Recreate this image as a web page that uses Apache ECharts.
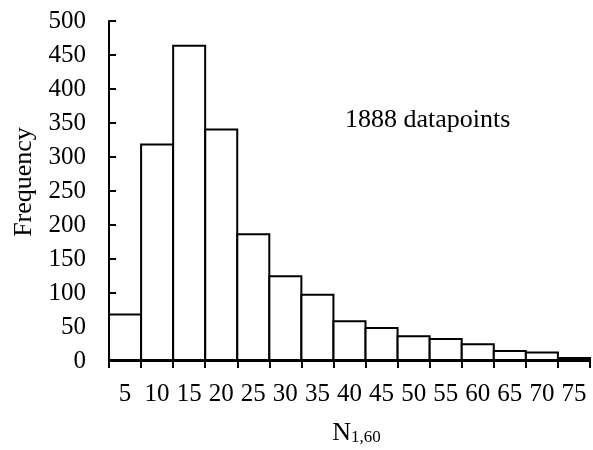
<!DOCTYPE html>
<html>
<head>
<meta charset="utf-8">
<title>N1,60 histogram</title>
<script type="text/javascript" src="https://cdn.jsdelivr.net/npm/echarts@6/dist/echarts.min.js"></script>
<style>
html, body { margin: 0; padding: 0; background: #fff; }
#chart { width: 593px; height: 450px; }
</style>
</head>
<body>
<div id="chart"></div>
<script type="text/javascript">
    // bin labels (upper edge of each 5-wide bin)
    var bins = ['5', '10', '15', '20', '25', '30', '35', '40', '45', '50', '55', '60', '65', '70', '75'];
    // counts
    var counts = [70, 320, 465, 342, 188, 126, 99, 60, 50, 38, 34, 26, 16, 14, 6];
    var yTicks = [0, 50, 100, 150, 200, 250, 300, 350, 400, 450, 500];
    var note = '1888 datapoints';

    var serif = '"Liberation Serif", "Times New Roman", serif';

    var option = {
        backgroundColor: '#fff',
        animation: false,
        grid: { left: 109, right: 3, top: 21, bottom: 89, containLabel: false, outerBoundsMode: 'none' },
        graphic: [{
            type: 'text',
            left: 345,
            top: 107,
            style: { text: note, font: '26px ' + serif, fill: '#000' }
        }],
        xAxis: {
            type: 'category',
            data: bins,
            boundaryGap: true,
            axisLine: { lineStyle: { color: '#000', width: 2 } },
            axisTick: { show: true, inside: false, length: 7, alignWithLabel: false, lineStyle: { color: '#000', width: 2 } },
            axisLabel: { interval: 0, margin: 21, color: '#000', fontFamily: serif, fontSize: 25 },
            name: '{n|N}{s|1,60}',
            nameLocation: 'middle',
            nameGap: 58,
            nameTextStyle: {
                padding: [0, 0, 0, 14],
                rich: {
                    n: { fontFamily: serif, fontSize: 26, color: '#000', verticalAlign: 'bottom' },
                    s: { fontFamily: serif, fontSize: 17, color: '#000', padding: [10, 0, 0, 0], verticalAlign: 'bottom' }
                }
            }
        },
        yAxis: {
            type: 'value',
            min: yTicks[0],
            max: yTicks[yTicks.length - 1],
            interval: yTicks[1] - yTicks[0],
            axisLine: { show: true, lineStyle: { color: '#000', width: 2 } },
            axisTick: { show: true, inside: true, length: 7, lineStyle: { color: '#000', width: 2 } },
            splitLine: { show: false },
            axisLabel: { margin: 23, color: '#000', fontFamily: serif, fontSize: 25 },
            name: 'Frequency',
            nameLocation: 'middle',
            nameGap: 71,
            nameRotate: 90,
            nameTextStyle: { color: '#000', fontFamily: serif, fontSize: 26, padding: [0, 0, 0, 18] }
        },
        series: [{
            type: 'bar',
            data: counts,
            barWidth: 34,
            itemStyle: { color: '#fff', borderColor: '#000', borderWidth: 2 }
        }]
    };

    var chart = echarts.init(document.getElementById('chart'));
    chart.setOption(option);
</script>
</body>
</html>
